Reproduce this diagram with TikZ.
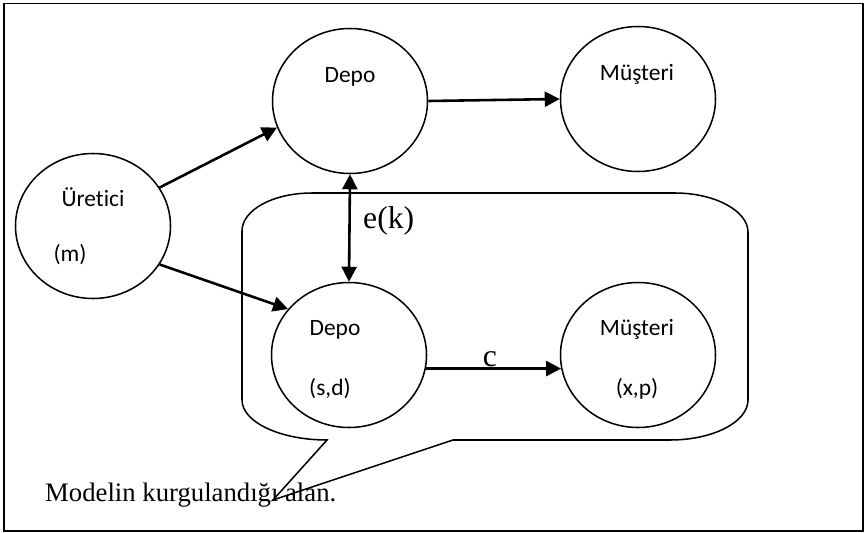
\documentclass[tikz,border=0pt]{standalone}
\usepackage{fontspec}
\setmainfont{Liberation Serif}
\newfontfamily\calibri[Ligatures={NoCommon}]{Carlito}
\usepackage{tikz}
\usetikzlibrary{arrows.meta, shapes.geometric}
\tikzset{>={Triangle[length=4.5mm,width=4.5mm]}}

\tikzset{
  yer/.style={ellipse, draw, line width=1.3pt, minimum width=4.65cm, minimum height=4.35cm, inner sep=0pt},
  etiket/.style={font=\calibri\fontsize{20}{24}\selectfont, inner sep=0pt, anchor=base},
  yazi/.style={font=\fontsize{27}{32}\selectfont, inner sep=0pt, anchor=base west},
  ok/.style={->, line width=2.2pt}
}

\begin{document}
\begin{tikzpicture}[x=0.03cm, y=-0.03cm]
        \useasboundingbox (0,0) rectangle (867,533);

        % Draw the frame
        \draw[line width=1.5pt] (4,3.5) rectangle (863,531);

        % Callout around the modelled area
        \draw[line width=1.3pt] (242,231) -- (242,400)
            .. controls (242,422) and (280,440) .. (327,440)
            -- (273,500) -- (453,440) -- (670,440)
            .. controls (713,440) and (748,422) .. (748,400)
            -- (748,232)
            .. controls (748,211) and (715,193) .. (675,193)
            -- (312,193)
            .. controls (273,193) and (242,210) .. (242,231) -- cycle;

        % Producer, depots and customers
        \node[yer] (ur) at (93,226) {};
        \node[yer] (dep1) at (350,101) {};
        \node[yer] (mus1) at (638,99) {};
        \node[yer] (dep2) at (349,355) {};
        \node[yer] (mus2) at (638,355) {};

        \node[etiket] (ur-ad) at (93,206) {Üretici};
        \node[etiket] (ur-m) at (70,261) {(m)};
        \node[etiket] (dep1-ad) at (350,82) {Depo};
        \node[etiket] (mus1-ad) at (637,80) {Müşteri};
        \node[etiket] (dep2-ad) at (335,335) {Depo};
        \node[etiket] (dep2-sd) at (330,395) {(s,d)};
        \node[etiket] (mus2-ad) at (637,335) {Müşteri};
        \node[etiket] (mus2-xp) at (637,395) {(x,p)};

        % Flows between the nodes
        \draw[ok] (ur.30) -- (dep1.200);
        \draw[ok] (ur.-30) -- (dep2.143);
        \draw[ok] (dep1.east) -- (mus1.west);
        \draw[ok, <->] (dep1.south) -- (dep2.north);
        \draw[ok] (dep2.-10) -- (mus2.190);

        \node[yazi] (ek) at (363,228) {e(k)};
        \node[yazi, anchor=base] (c) at (490,366) {c};

        \node[font=\fontsize{22.8}{27}\selectfont, inner sep=0pt, anchor=base west] (alan) at (45,501) {Modelin kurgulandığı alan.};
\end{tikzpicture}
\end{document}
